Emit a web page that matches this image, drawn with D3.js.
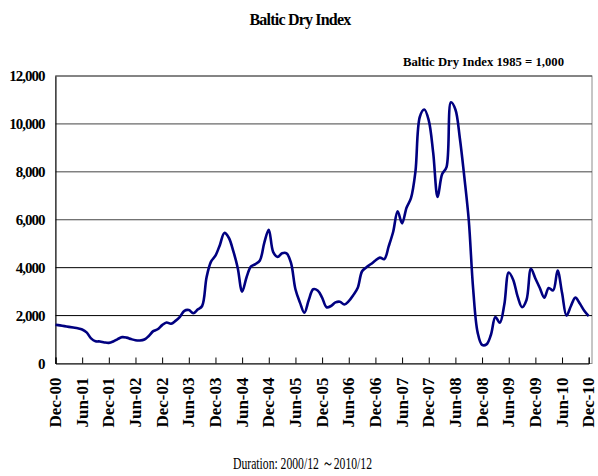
<!DOCTYPE html>
<html>
<head>
<meta charset="utf-8">
<script src="https://cdn.jsdelivr.net/npm/d3@7"></script>
<style>
  body { margin: 0; background: #fff; }
  text { font-family: "Liberation Serif", "Times New Roman", serif; }
</style>
</head>
<body>
<div id="chart"></div>
<script>
// monthly BDI readings, Dec-00 .. Dec-10
const bdi = [
  1620, 1590, 1560, 1530, 1500, 1470, 1420, 1300, 1050, 930,
  920, 880, 860, 920, 1020, 1100, 1080, 1020, 970, 960,
  1000, 1150, 1350, 1430, 1600, 1710, 1660, 1780, 1950, 2200,
  2230, 2100, 2250, 2400, 3600, 4250, 4500, 4950, 5450, 5250,
  4700, 4000, 3000, 3600, 4050, 4150, 4300, 5050, 5580, 4650,
  4450, 4600, 4600, 4200, 3100, 2550, 2120, 2650, 3100, 3050,
  2750, 2350, 2400, 2550, 2580, 2460, 2600, 2850, 3150, 3850,
  4020, 4150, 4300, 4420, 4360, 4900, 5500, 6350, 5850, 6500,
  6900, 8000, 10300, 10600, 10150, 8800, 6950, 7900, 8200, 10900,
  10600, 9400, 7800, 6000, 3100, 1300, 780, 800, 1200, 1940,
  1700, 2450, 3800, 3500, 2800, 2350, 2650, 3950, 3550, 3150,
  2750, 3150, 3050, 3880, 2950, 2000, 2400, 2750, 2500, 2200,
  1980
];
const tickLabels = ["Dec-00", "Jun-01", "Dec-01", "Jun-02", "Dec-02", "Jun-03", "Dec-03",
  "Jun-04", "Dec-04", "Jun-05", "Dec-05", "Jun-06", "Dec-06", "Jun-07", "Dec-07",
  "Jun-08", "Dec-08", "Jun-09", "Dec-09", "Jun-10", "Dec-10"];
const yTicks = [0, 2000, 4000, 6000, 8000, 10000, 12000];

const W = 598, H = 476;
const plotL = 55.5, plotR = 592, plotT = 76, plotB = 363.5;

const svg = d3.select("#chart").append("svg")
  .attr("width", W)
  .attr("height", H);

const x = d3.scaleLinear()
  .domain([0, 120])
  .range([plotL, 588.7]);

const y = d3.scaleLinear()
  .domain([0, 12000])
  .range([plotB, plotT]);

// plot frame (grey)
svg.append("rect")
  .attr("x", plotL)
  .attr("y", plotT)
  .attr("width", plotR - plotL)
  .attr("height", plotB - plotT)
  .attr("fill", "none")
  .attr("stroke", "#8c8c8c")
  .attr("stroke-width", 1);

// gridlines
svg.append("g")
  .selectAll("line")
  .data(yTicks.filter(d => d > 0))
  .enter()
  .append("line")
  .attr("x1", plotL)
  .attr("x2", plotR)
  .attr("y1", d => y(d))
  .attr("y2", d => y(d))
  .attr("stroke", d => d >= 6000 ? "#444" : "#000")
  .attr("stroke-width", 1);

// y axis
const yAxis = svg.append("g")
  .attr("transform", `translate(${plotL},0)`)
  .call(d3.axisLeft(y).tickValues(yTicks).tickSize(0).tickPadding(11).tickFormat(d3.format(",")));
yAxis.select(".domain").attr("stroke", "#000");
yAxis.selectAll("text")
  .attr("font-family", "Liberation Serif")
  .attr("font-weight", "bold")
  .attr("font-size", 15)
  .attr("letter-spacing", -1)
  .attr("fill", "#000");

// x axis, ticks pointing up into the plot
const xAxis = svg.append("g")
  .attr("transform", `translate(0,${plotB})`)
  .call(d3.axisBottom(x)
    .tickValues(d3.range(0, 121, 6))
    .tickSize(-6)
    .tickFormat((d, i) => tickLabels[i]));
xAxis.select(".domain").attr("stroke", "#000");
xAxis.selectAll(".tick line").attr("stroke", "#000");
xAxis.selectAll("text")
  .attr("font-family", "Liberation Serif")
  .attr("font-weight", "bold")
  .attr("font-size", 17)
  .attr("fill", "#000")
  .attr("transform", "rotate(-90)")
  .attr("text-anchor", "end")
  .attr("x", -14)
  .attr("y", 0)
  .attr("dy", "0.3em");

// data line
const line = d3.line()
  .x((d, i) => x(i))
  .y(d => y(d))
  .curve(d3.curveCatmullRom);

svg.append("path")
  .datum(bdi)
  .attr("d", line)
  .attr("fill", "none")
  .attr("stroke", "#000080")
  .attr("stroke-width", 2.6)
  .attr("stroke-linejoin", "round");

// titles
svg.append("text")
  .attr("x", 300)
  .attr("y", 25)
  .attr("text-anchor", "middle")
  .attr("font-weight", "bold")
  .attr("font-size", 16)
  .attr("letter-spacing", -0.8)
  .text("Baltic Dry Index");

svg.append("text")
  .attr("x", 403)
  .attr("y", 66)
  .attr("font-weight", "bold")
  .attr("font-size", 13)
  .attr("textLength", 161)
  .attr("lengthAdjust", "spacingAndGlyphs")
  .text("Baltic Dry Index 1985 = 1,000");

svg.append("text")
  .attr("x", 233)
  .attr("y", 469)
  .attr("font-size", 17.5)
  .attr("textLength", 139)
  .attr("lengthAdjust", "spacingAndGlyphs")
  .text("Duration: 2000/12 ～2010/12");
</script>
</body>
</html>
